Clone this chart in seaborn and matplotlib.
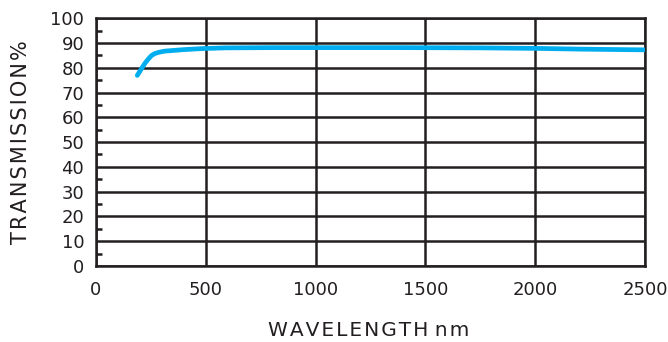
import numpy as np
import pandas as pd
import matplotlib
matplotlib.use("Agg")
import matplotlib.pyplot as plt
import seaborn as sns

# Transmission curve
wavelength = [188, 205, 223, 240, 254, 270, 290, 314, 400, 481, 587, 800, 1000, 1400, 1750, 2000, 2200, 2500]
transmission = [76.9, 79.3, 81.8, 83.7, 85.0, 85.8, 86.3, 86.7, 87.3, 87.7, 88.0, 88.1, 88.1, 88.1, 88.0, 87.8, 87.5, 87.2]

x_ticks = [0, 500, 1000, 1500, 2000, 2500]
y_ticks = [0, 10, 20, 30, 40, 50, 60, 70, 80, 90, 100]

data = pd.DataFrame({"wavelength": wavelength, "transmission": transmission})

sns.set_style("white")
plt.rcParams['font.family'] = ['DejaVu Sans']

fig = plt.figure(figsize=(6.68, 3.42), dpi=100)
ax = fig.add_axes([0.1437, 0.222, 0.822, 0.725])

sns.lineplot(data=data, x="wavelength", y="transmission", ax=ax,
             color="#00AEEF", linewidth=3.4, solid_capstyle="round", zorder=3)

dark = "#231f20"
ax.set_xlim(0, 2500)
ax.set_ylim(0, 100)
ax.set_xticks(x_ticks)
ax.set_yticks(y_ticks)
ax.set_yticks([v + 5 for v in y_ticks[:-1]], minor=True)
ax.grid(True, which="major", color=dark, linewidth=1.8)
for s in ax.spines.values():
    s.set_color(dark)
    s.set_linewidth(1.8)

ax.tick_params(axis="x", which="major", length=0, labelsize=13, colors=dark, pad=10.5)
ax.tick_params(axis="y", which="major", length=0, labelsize=13, colors=dark, pad=8.5)
ax.tick_params(axis="y", which="minor", left=True, direction="in", length=4, width=1.8, color=dark)

# letter-spaced axis titles (hair spaces)
hair = "\u200a"
ax.set_xlabel(hair.join("WAVELENGTH") + " " + hair.join("nm"), fontsize=14.5, color=dark)
ax.set_ylabel(hair.join("TRANSMISSION%"), fontsize=15, color=dark)
ax.xaxis.set_label_coords(0.496, -0.22)
ax.yaxis.set_label_coords(-0.118, 0.5)

fig.savefig("out.png", dpi=100)
